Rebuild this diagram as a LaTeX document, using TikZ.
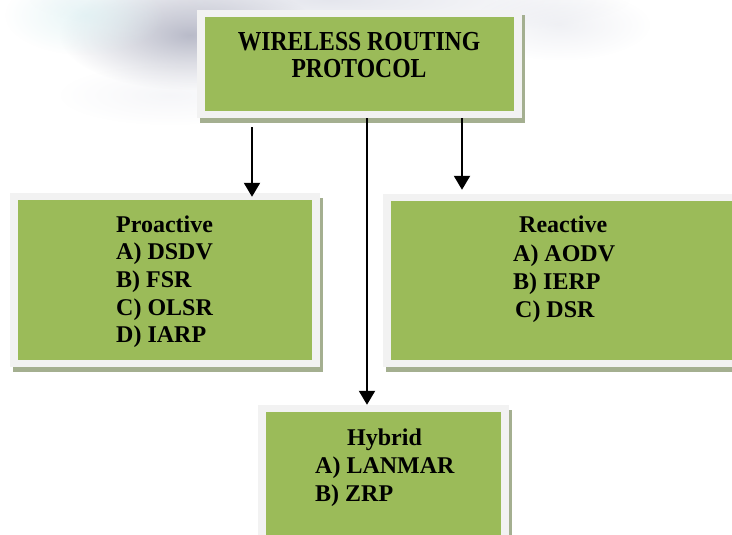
\documentclass[tikz,border=0pt]{standalone}
\usepackage{graphicx}
\usepackage{fontspec}
\setmainfont{Liberation Serif}
\usetikzlibrary{shadows,fadings,arrows.meta,calc}

\definecolor{boxgreen}{HTML}{9BBB59}
\definecolor{framegray}{HTML}{F2F2F2}
\definecolor{shadowgreen}{HTML}{A4AF90}
\definecolor{hazegray}{HTML}{B5B7C6}
\definecolor{hazecyan}{HTML}{DDF1F3}
\definecolor{hazelight}{HTML}{DADCE6}

\tikzfading[name=softhaze, inner color=transparent!0, outer color=transparent!100]

% one centred line of zero width, for stacking in a \vtop
\newcommand{\ctrline}[1]{\hbox to 0pt{\hss#1\hss}}

\begin{document}
\begin{tikzpicture}[x=1pt, y=-1pt,
  catbox/.style={rectangle, inner sep=0pt, fill=framegray,
    drop shadow={shadow xshift=3pt, shadow yshift=-5pt, fill=shadowgreen, opacity=1},
    path picture={\fill[boxgreen]
      ([shift={(8pt,-7pt)}]path picture bounding box.north west) rectangle
      ([shift={(-8pt,7pt)}]path picture bounding box.south east);}},
  lbl/.style={inner sep=0pt, text=black, font=\bfseries},
  arr/.style={line width=2pt, -{Triangle[width=16pt,length=14pt]}},
  haze/.style={path fading=softhaze}
]
\useasboundingbox (0,0) rectangle (732,535);
\clip (0,0) rectangle (732,535);
\fill[white] (0,0) rectangle (732,535);

% soft watercolour haze along the top edge
\fill[hazelight, opacity=0.7, haze] (330,0) ellipse [x radius=300, y radius=40];
\fill[hazegray, opacity=0.95, haze] (190,35) ellipse [x radius=130, y radius=55];
\fill[hazecyan, opacity=0.7, haze] (85,15) ellipse [x radius=80, y radius=40];
\fill[hazelight, opacity=0.4, haze] (560,25) ellipse [x radius=90, y radius=35];
\fill[hazelight, opacity=0.25, haze] (170,95) ellipse [x radius=110, y radius=30];

% boxes
\node[catbox, minimum width=325pt, minimum height=108pt] (top) at (359.5,64) {};
\node[catbox, minimum width=310pt, minimum height=174pt] (left) at (165,280) {};
\node[catbox, minimum width=358pt, minimum height=173pt] (right) at (562,280.5) {};
\node[catbox, minimum width=251pt, minimum height=140pt] (hyb) at (383.5,475) {};

% labels
\node[lbl, anchor=base, font=\bfseries\fontsize{27.5}{27}\selectfont] (toptxt) at (359,51)
  {\vtop{\ctrline{\scalebox{0.86}[1]{WIRELESS ROUTING}}\ctrline{\scalebox{0.86}[1]{PROTOCOL}}}};
\node[lbl, anchor=base west, font=\bfseries\fontsize{24}{27.7}\selectfont] (lefttxt) at (116,232)
  {\vtop{\hbox{Proactive}\hbox{A) DSDV}\hbox{B) FSR}\hbox{C) OLSR}\hbox{D) IARP}}};
\node[lbl, anchor=base west, font=\bfseries\fontsize{24}{28.3}\selectfont] (righttxt) at (513,233)
  {\vtop{\hbox{\hspace*{6pt}Reactive}\hbox{A) AODV}\hbox{B) IERP}\hbox{\hspace*{2pt}C) DSR}}};
\node[lbl, anchor=base west, font=\bfseries\fontsize{24}{28}\selectfont] (hybtxt) at (315,445)
  {\vtop{\hbox{\hspace*{32pt}Hybrid}\hbox{A) LANMAR}\hbox{B) ZRP}}};

% connectors
\coordinate (la) at (252,0);
\coordinate (ma) at (367,0);
\coordinate (ra) at (462,0);
\draw[arr] ($(top.south -| la)+(0,9)$) -- ($(la |- left.north)+(0,4)$);
\draw[arr] (top.south -| ma) -- (ma |- hyb.north);
\draw[arr] (top.south -| ra) -- ($(ra |- right.north)+(0,-4)$);
\end{tikzpicture}
\end{document}
